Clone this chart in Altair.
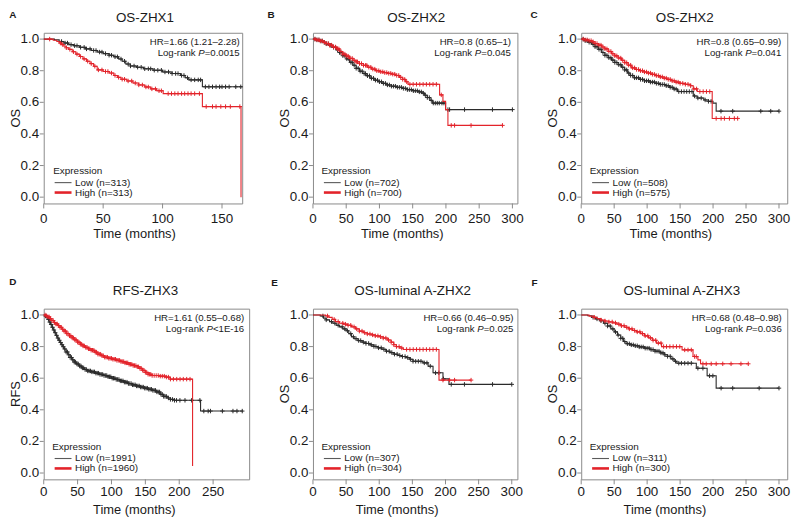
import altair as alt
import pandas as pd

FONT = "Liberation Sans"
RED = "#e3232a"
DARK = "#2b2b2b"
BOX = "#8a8a8a"
TXT = "#1a1a1a"
H = 172
CROSS = "M0,-1L0,1M-1,0L1,0"

A_low_t = [0, 9, 13, 17, 21, 25, 30, 35, 40, 45, 50, 55, 59, 63, 66, 69, 73, 78, 84, 92, 100, 108, 115, 119, 122, 133.5, 167]
A_low_s = [1.0, 0.995, 0.985, 0.975, 0.965, 0.958, 0.948, 0.938, 0.928, 0.918, 0.908, 0.898, 0.888, 0.874, 0.86, 0.842, 0.83, 0.822, 0.812, 0.803, 0.792, 0.782, 0.77, 0.755, 0.742, 0.698, 0.698]
A_low_c = [15, 18, 20, 23, 26, 28, 31, 34, 36, 39, 42, 44, 47, 49, 52, 55, 57, 60, 62, 65, 68, 71, 73, 76, 79, 82, 85, 88, 90, 93, 96, 99, 102, 105, 108, 111, 113, 116, 118, 121, 124, 127, 130, 132, 136, 139, 142, 145, 148, 150, 153, 156, 161.6, 165.8]
A_high_t = [0, 8, 11, 13, 15, 17, 19, 21, 24, 27, 30, 33, 36, 39, 42, 45, 50, 55, 59, 62, 65, 70, 75, 80, 85, 90, 95, 100.5, 133.5, 166]
A_high_s = [1.0, 0.993, 0.985, 0.975, 0.965, 0.955, 0.945, 0.935, 0.92, 0.905, 0.89, 0.875, 0.86, 0.845, 0.828, 0.805, 0.795, 0.785, 0.77, 0.758, 0.746, 0.735, 0.722, 0.71, 0.697, 0.685, 0.673, 0.655, 0.573, 0.0]
A_high_c = [5, 14, 16, 19, 22, 25, 28, 31, 34, 37, 40, 43, 46, 49, 52, 54, 57, 60, 63, 66, 68, 71, 74, 77, 80, 83, 86, 88, 91, 94, 97, 99, 104.7, 107.5, 110.3, 113, 116, 118.6, 121.4, 124, 127, 131, 136.7, 142, 145, 149, 153, 157, 165]

B_low_t = [0, 5, 10, 15, 20, 25, 30, 35, 40, 45, 50, 55, 60, 65, 70, 75, 80, 86, 92, 98, 104, 110, 118, 126, 134, 142, 150, 158, 164, 168, 172, 176, 180, 199.5, 300]
B_low_s = [1.0, 0.995, 0.988, 0.98, 0.97, 0.96, 0.948, 0.932, 0.915, 0.895, 0.875, 0.853, 0.835, 0.815, 0.797, 0.782, 0.768, 0.752, 0.74, 0.73, 0.72, 0.71, 0.702, 0.695, 0.688, 0.68, 0.673, 0.666, 0.658, 0.645, 0.63, 0.612, 0.595, 0.554, 0.554]
B_low_c = [3, 6, 9, 12, 14, 17, 20, 23, 26, 28, 31, 34, 37, 40, 42, 45, 48, 51, 54, 57, 59, 62, 65, 68, 71, 74, 77, 79, 82, 85, 88, 91, 94, 97, 100, 103, 106, 109, 112, 115, 118, 121, 124, 127, 130, 133, 136, 139, 142, 145, 148, 151, 154, 157, 160, 163, 166, 169, 172, 175, 178, 181, 184, 187, 190, 194, 197, 203, 205.5, 228, 270, 300]
B_high_t = [0, 5, 10, 15, 20, 25, 30, 35, 40, 45, 50, 55, 60, 65, 70, 76, 82, 88, 94, 100, 106, 112, 118, 124, 130, 135, 139, 143, 190.5, 195.5, 199.5, 203, 285]
B_high_s = [1.0, 0.995, 0.988, 0.98, 0.972, 0.962, 0.95, 0.938, 0.922, 0.905, 0.892, 0.878, 0.866, 0.856, 0.845, 0.834, 0.822, 0.81, 0.8, 0.793, 0.788, 0.783, 0.778, 0.77, 0.758, 0.745, 0.73, 0.714, 0.647, 0.606, 0.554, 0.454, 0.454]
B_high_c = [3, 6, 9, 11, 14, 17, 20, 23, 25, 28, 31, 34, 37, 39, 42, 45, 48, 51, 53, 56, 59, 62, 65, 67, 70, 73, 76, 79, 81, 84, 87, 90, 93, 96, 99, 102, 105, 108, 111, 114, 117, 120, 123, 126, 129, 132, 135, 138, 141, 145.8, 150.7, 155.7, 160.7, 165.7, 170.6, 175.6, 180.6, 185.6, 193, 208, 213, 237.8, 285]

C_low_t = [0, 6, 11, 16, 21, 26, 31, 36, 41, 46, 51, 56, 61, 66, 70, 74, 80, 88, 96, 104, 112, 120, 128, 134, 140, 146, 170, 176, 186, 193, 199.7, 204.7, 300]
C_low_s = [1.0, 0.99, 0.98, 0.968, 0.952, 0.935, 0.915, 0.897, 0.882, 0.867, 0.852, 0.838, 0.822, 0.805, 0.785, 0.77, 0.755, 0.745, 0.736, 0.728, 0.72, 0.713, 0.705, 0.695, 0.684, 0.668, 0.64, 0.627, 0.615, 0.606, 0.595, 0.544, 0.544]
C_low_c = [3, 6, 9, 12, 15, 18, 21, 24, 27, 30, 33, 36, 39, 42, 45, 48, 51, 54, 57, 60, 63, 66, 69, 72, 75, 78, 81, 84, 87, 90, 93, 96, 99, 102, 105, 108, 111, 114, 117, 120, 123, 126, 129, 132, 135, 138, 141, 144, 148, 152, 156, 160, 164, 168, 172, 177, 182, 188, 193, 197, 212, 229.8, 272.4, 287.5, 300]
C_high_t = [0, 6, 11, 16, 21, 26, 31, 36, 41, 46, 51, 56, 61, 66, 71, 76, 82, 88, 94, 100, 106, 112, 118, 124, 130, 136, 142, 150, 158, 166, 170, 176, 198.7, 237.3]
C_high_s = [1.0, 0.995, 0.99, 0.983, 0.972, 0.962, 0.95, 0.938, 0.922, 0.907, 0.894, 0.88, 0.866, 0.851, 0.835, 0.818, 0.808, 0.8, 0.792, 0.785, 0.777, 0.769, 0.761, 0.753, 0.745, 0.736, 0.728, 0.72, 0.714, 0.705, 0.685, 0.668, 0.498, 0.498]
C_high_c = [3, 6, 9, 12, 15, 18, 21, 24, 27, 30, 33, 36, 39, 42, 45, 48, 51, 54, 57, 60, 63, 66, 69, 72, 75, 78, 81, 84, 87, 90, 93, 96, 99, 102, 105, 108, 111, 114, 117, 120, 123, 126, 129, 132, 135, 138, 141, 144, 147, 150, 154, 158, 162, 166, 171, 175, 180, 185, 190, 195, 204.7, 212.2, 217.2, 224.8, 232.3, 237.3]

D_low_t = [0, 2, 4, 6, 8, 10, 12, 14, 16, 18, 20, 22, 24, 26, 28, 30, 33, 36, 39, 42, 45, 48, 52, 56, 60, 65, 70, 76, 82, 88, 94, 100, 106, 112, 118, 124, 130, 136, 142, 148, 154, 160, 166, 172, 177, 182, 187, 193, 231.5, 294]
D_low_s = [1.0, 0.993, 0.985, 0.972, 0.955, 0.94, 0.922, 0.905, 0.888, 0.871, 0.854, 0.84, 0.826, 0.812, 0.799, 0.785, 0.766, 0.748, 0.731, 0.716, 0.702, 0.69, 0.677, 0.665, 0.655, 0.646, 0.64, 0.632, 0.624, 0.617, 0.609, 0.6, 0.592, 0.583, 0.575, 0.566, 0.558, 0.551, 0.544, 0.537, 0.53, 0.523, 0.513, 0.498, 0.485, 0.475, 0.466, 0.46, 0.392, 0.392]
D_low_c = [3, 5, 7, 9, 11, 13, 15, 17, 19, 21, 23, 25, 27, 29, 31, 33, 35, 37, 39, 41, 43, 45, 47, 49, 51, 53, 55, 57, 59, 61, 63, 65, 67, 69, 71, 73, 75, 77, 79, 81, 83, 85, 87, 89, 91, 93, 95, 97, 99, 101, 103, 105, 107, 109, 111, 113, 115, 117, 119, 121, 123, 125, 127, 129, 131, 133, 135, 137, 139, 141, 143, 145, 147, 149, 151, 153, 155, 157, 159, 161, 163, 165, 167, 169, 171, 173, 175, 177, 179, 181, 184, 187, 190, 193, 196, 201, 208.5, 218.3, 230.5, 236.3, 242.7, 246.1, 263.7, 279.3, 285.2, 293]
D_high_t = [0, 3, 6, 9, 12, 15, 18, 21, 24, 27, 30, 34, 38, 42, 46, 50, 54, 58, 62, 66, 70, 75, 80, 85, 90, 96, 102, 108, 114, 120, 126, 132, 138, 142, 146, 150, 154, 160, 170, 180, 186.5, 219.7]
D_high_s = [1.0, 0.995, 0.988, 0.977, 0.965, 0.952, 0.943, 0.933, 0.922, 0.91, 0.898, 0.882, 0.868, 0.855, 0.842, 0.828, 0.815, 0.804, 0.795, 0.786, 0.777, 0.765, 0.752, 0.742, 0.733, 0.726, 0.72, 0.713, 0.705, 0.697, 0.688, 0.68, 0.672, 0.662, 0.65, 0.637, 0.625, 0.617, 0.613, 0.607, 0.594, 0.044]
D_high_c = [2, 4, 6, 8, 10, 12, 14, 16, 18, 20, 22, 24, 26, 28, 30, 32, 34, 36, 38, 40, 42, 44, 46, 48, 50, 52, 54, 56, 58, 60, 62, 64, 66, 68, 70, 72, 74, 76, 78, 80, 82, 84, 86, 88, 90, 92, 94, 96, 98, 100, 102, 104, 106, 108, 110, 112, 114, 116, 118, 120, 122, 124, 126, 128, 130, 132, 134, 136, 138, 140, 142, 144, 146, 148, 150, 152, 154, 156, 158, 160, 163, 166, 169, 172, 175, 178, 181, 184, 187, 191.4, 196.3, 201.2, 206, 211, 215.9]

E_low_t = [0, 11, 16, 20, 25, 30, 35, 40, 45, 50, 54, 58, 62, 68, 74, 80, 86, 92, 98, 104, 110, 116, 122, 128, 134, 140, 146, 151, 166, 173.7, 181.2, 196.2, 205.2, 300]
E_low_s = [1.0, 0.994, 0.98, 0.969, 0.958, 0.948, 0.935, 0.925, 0.912, 0.9, 0.882, 0.862, 0.85, 0.838, 0.828, 0.82, 0.811, 0.801, 0.792, 0.783, 0.771, 0.762, 0.752, 0.744, 0.737, 0.73, 0.72, 0.707, 0.697, 0.676, 0.634, 0.596, 0.561, 0.561]
E_low_c = [15, 20, 28, 33, 38, 44, 48, 52, 57, 61, 65, 69, 72, 76, 80, 84, 88, 92, 95, 99, 103, 107, 111, 115, 119, 123, 127, 131, 135, 139, 143, 147, 151, 155, 159, 163, 168, 172, 177, 185, 190, 197, 208.7, 228.6, 271, 300]
E_high_t = [0, 19, 24, 29, 34, 40, 46, 52, 58, 64, 70, 76, 82, 88, 94, 100, 106, 112, 118, 122, 126, 131, 136.3, 190.2, 238.6]
E_high_s = [1.0, 0.994, 0.985, 0.972, 0.958, 0.948, 0.942, 0.935, 0.925, 0.912, 0.898, 0.888, 0.88, 0.874, 0.868, 0.862, 0.854, 0.842, 0.828, 0.812, 0.8, 0.791, 0.782, 0.588, 0.588]
E_high_c = [22, 32, 38, 45, 49, 53, 57, 62, 66, 70, 74, 78, 82, 86, 90, 94, 98, 102, 106, 110, 114, 118, 122, 126, 130, 134, 141.3, 146.3, 151.3, 156.3, 161.2, 166.2, 171.2, 176.2, 181.2, 186.2, 196.2, 206.2, 213.7, 238.6]

F_low_t = [0, 10, 16, 22, 28, 34, 40, 45, 50, 55, 60, 64, 68, 74, 80, 88, 96, 104, 112, 120, 126, 131, 136, 141, 145, 174.6, 191, 204.7, 300]
F_low_s = [1.0, 0.995, 0.985, 0.975, 0.963, 0.948, 0.93, 0.912, 0.893, 0.873, 0.852, 0.832, 0.818, 0.811, 0.805, 0.798, 0.79, 0.781, 0.771, 0.76, 0.748, 0.738, 0.722, 0.707, 0.695, 0.663, 0.615, 0.537, 0.537]
F_low_c = [18, 24, 30, 36, 40, 44, 48, 52, 56, 60, 63, 66, 70, 73, 76, 79, 82, 85, 88, 91, 94, 97, 100, 103, 106, 109, 112, 115, 118, 121, 124, 127, 131, 135, 139, 143, 148, 152, 157, 162, 167, 177, 184.6, 194.7, 199.7, 212.2, 229.8, 269.9, 300]
F_high_t = [0, 12, 18, 24, 30, 36, 42, 48, 54, 60, 66, 72, 78, 84, 90, 96, 102, 108, 114, 121.9, 153, 169.6, 177, 181, 253.4]
F_high_s = [1.0, 0.993, 0.985, 0.977, 0.968, 0.962, 0.956, 0.95, 0.942, 0.932, 0.922, 0.912, 0.902, 0.893, 0.882, 0.868, 0.855, 0.84, 0.822, 0.8, 0.779, 0.737, 0.716, 0.691, 0.691]
F_high_c = [20, 30, 36, 42, 47, 52, 57, 61, 65, 69, 73, 77, 81, 85, 89, 93, 97, 101, 105, 109, 113, 117, 121, 125, 129.4, 134.5, 139.5, 144.5, 149.5, 157, 162, 167, 172, 174.6, 184.6, 189.6, 197.2, 204.7, 214.7, 227.3, 242.3, 253.4]

letters = ["A", "B", "C", "D", "E", "F"]
titles = ["OS-ZHX1", "OS-ZHX2", "OS-ZHX2", "RFS-ZHX3", "OS-luminal A-ZHX2", "OS-luminal A-ZHX3"]
ytitles = ["OS", "OS", "OS", "RFS", "OS", "OS"]
hr_texts = ["HR=1.66 (1.21–2.28)", "HR=0.8 (0.65–1)", "HR=0.8 (0.65–0.99)",
            "HR=1.61 (0.55–0.68)", "HR=0.66 (0.46–0.95)", "HR=0.68 (0.48–0.98)"]
p_texts = ["=0.0015", "=0.045", "=0.041", "<1E-16", "=0.025", "=0.036"]
n_low = [313, 702, 508, 1991, 307, 311]
n_high = [313, 700, 575, 1960, 304, 300]
x_ticks = [[0, 50, 100, 150], [0, 50, 100, 150, 200, 250, 300], [0, 50, 100, 150, 200, 250, 300],
           [0, 50, 100, 150, 200, 250], [0, 50, 100, 150, 200, 250, 300], [0, 50, 100, 150, 200, 250, 300]]
y_ticks = [0.0, 0.2, 0.4, 0.6, 0.8, 1.0]
y_labels = ["0.0", "0.2", "0.4", "0.6", "0.8", "1.0"]

widths = [200, 206, 207.6, 207, 206, 207.6]
x_max = [167, 307.5, 312.5, 303.2, 308.5, 312.5]
ann_right = [2.5, 6.5, 6, 5, 4, 5.5]
title_dx = [2, 1, 0.5, -1, -2.5, -2.5]
title_y = [-10.5, -10.5, -10.5, -13.5, -13.5, -13.5]
xtitle_x = [91.5, 90, 90.3, 91.3, 84.8, 84.3]
xlabel_y = [19.2, 19.2, 19.2, 16.5, 16.5, 16.5]
letter_x = [-34.7, -45.7, -51, -34.7, -42, -50]
letter_y = [-14.5, -14.5, -14.5, -23.5, -22.5, -22.5]

series = [
    ((A_low_t, A_low_s, A_low_c), (A_high_t, A_high_s, A_high_c)),
    ((B_low_t, B_low_s, B_low_c), (B_high_t, B_high_s, B_high_c)),
    ((C_low_t, C_low_s, C_low_c), (C_high_t, C_high_s, C_high_c)),
    ((D_low_t, D_low_s, D_low_c), (D_high_t, D_high_s, D_high_c)),
    ((E_low_t, E_low_s, E_low_c), (E_high_t, E_high_s, E_high_c)),
    ((F_low_t, F_low_s, F_low_c), (F_high_t, F_high_s, F_high_c)),
]

ADV = {"0": 556, "1": 556, "2": 556, "3": 556, "4": 556, "5": 556, "6": 556, "7": 556,
       "8": 556, "9": 556, ".": 278, "=": 584, "<": 584, "E": 667, "-": 333, "P": 667, " ": 278}


def tw(s, size):
    return sum(ADV.get(c, 556) for c in s) / 1000.0 * size


def step_at(ts, ss, x):
    v = ss[0]
    for t, s in zip(ts, ss):
        if t <= x:
            v = s
        else:
            break
    return v


def txt(text, x, y, size, align="left", weight="normal", style="normal", baseline="alphabetic",
        color=TXT, angle=0):
    return alt.Chart(pd.DataFrame({"v": [text]})).mark_text(
        align=align, baseline=baseline, fontSize=size, fontWeight=weight,
        fontStyle=style, font=FONT, color=color, angle=angle
    ).encode(text="v:N", x=alt.value(x), y=alt.value(y))


def rule(x1, x2, y, color, sw):
    return alt.Chart(pd.DataFrame({"v": [0]})).mark_rule(color=color, strokeWidth=sw).encode(
        x=alt.value(x1), x2=alt.value(x2), y=alt.value(y))


def panel(i):
    w = widths[i]
    xs = alt.Scale(domain=[0, x_max[i]], nice=False, zero=False)
    ys = alt.Scale(domain=[-0.04, 1.04], nice=False, zero=False)
    layers = []
    for (ts, ss, cs), col in zip(series[i], [DARK, RED]):
        ldf = pd.DataFrame({"t": ts, "s": ss})
        cdf = pd.DataFrame({"t": cs, "s": [step_at(ts, ss, c) for c in cs]})
        X = alt.X("t:Q", scale=xs, axis=None)
        Y = alt.Y("s:Q", scale=ys, axis=None)
        layers.append(alt.Chart(ldf).mark_line(interpolate="step-after", color=col, strokeWidth=1.1)
                      .encode(x=X, y=Y))
        layers.append(alt.Chart(cdf).mark_point(shape=CROSS, filled=False, size=20, color=col,
                                                strokeWidth=1, opacity=1)
                      .encode(x=X, y=Y))

    # hand-made axes, positioned through the same scales
    xt = pd.DataFrame({"v": x_ticks[i], "lab": [str(v) for v in x_ticks[i]]})
    yt = pd.DataFrame({"v": y_ticks, "lab": y_labels})
    layers.append(alt.Chart(xt).mark_rule(color=BOX, strokeWidth=1).encode(
        x=alt.X("v:Q", scale=xs, axis=None), y=alt.value(H), y2=alt.value(H + 5)))
    layers.append(alt.Chart(xt).mark_text(fontSize=13.5, font=FONT, color=TXT, align="center",
                                          baseline="alphabetic").encode(
        x=alt.X("v:Q", scale=xs, axis=None), y=alt.value(H + xlabel_y[i]), text="lab:N"))
    layers.append(alt.Chart(yt).mark_rule(color=BOX, strokeWidth=1).encode(
        y=alt.Y("v:Q", scale=ys, axis=None), x=alt.value(-4), x2=alt.value(0)))
    layers.append(alt.Chart(yt).mark_text(fontSize=13.5, font=FONT, color=TXT, align="right",
                                          baseline="middle").encode(
        y=alt.Y("v:Q", scale=ys, axis=None), x=alt.value(-4.6), text="lab:N"))
    layers.append(txt("Time (months)", xtitle_x[i], H + 35, 13, align="center"))
    layers.append(txt(ytitles[i], -28, H / 2, 13, align="center", baseline="middle", angle=270))

    # title and panel letter
    layers.append(txt(titles[i], w / 2 + title_dx[i], title_y[i], 13.5, align="center"))
    layers.append(txt(letters[i], letter_x[i], letter_y[i], 10, weight="bold"))

    # HR / log-rank annotation
    xr = w - ann_right[i]
    fs = 9.7
    layers.append(txt(hr_texts[i], xr, 12.5, fs, align="right"))
    rest = p_texts[i]
    w_rest = tw(rest, fs)
    w_p = tw("P", fs)
    layers.append(txt(rest, xr, 23.5, fs, align="right"))
    layers.append(txt("P", xr - w_rest, 23.5, fs, align="right", style="italic"))
    layers.append(txt("Log-rank", xr - w_rest - w_p - tw(" ", fs), 23.5, fs, align="right"))

    # legend
    layers.append(txt("Expression", 8.5 if i else 9.6, H - 29.5, 10))
    layers.append(rule(11, 28, H - 21, "#5a5a5a", 1.1))
    layers.append(rule(11, 28, H - 11, RED, 2.6))
    layers.append(txt(f"Low (n={n_low[i]})", 31.5, H - 21, 10, baseline="middle"))
    layers.append(txt(f"High (n={n_high[i]})", 31.5, H - 11, 10, baseline="middle"))

    return alt.layer(*layers).properties(width=w, height=H)


chart = alt.concat(
    *[panel(i) for i in range(6)],
    columns=3,
    spacing={"row": 106, "column": 64.3},
    bounds="flush",
    align="each",
).properties(padding=0).configure_view(stroke=BOX, strokeWidth=1)

chart.save("out.html", embed_options={"renderer": "svg", "actions": False})
